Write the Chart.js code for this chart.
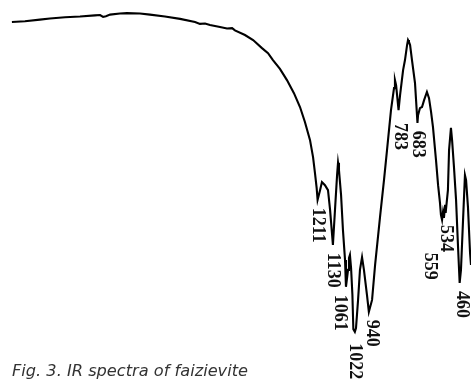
<!DOCTYPE html>
<html>
<head>
<meta charset="utf-8">
<script src="https://cdn.jsdelivr.net/npm/chart.js@4/dist/chart.umd.min.js"></script>
<style>
  html, body { margin: 0; padding: 0; background: #fff; }
  #wrap { position: relative; width: 471px; height: 385px; }
</style>
</head>
<body>
<div id="wrap"><canvas id="irChart"></canvas></div>
<script>
// wavenumber (cm-1) and transmittance (%)
var wavenumbers = [2827, 2758, 2679, 2626, 2546, 2467, 2388, 2361, 2345, 2330, 2308, 2256, 2219, 2150, 2097,
  2018, 1938, 1859, 1833, 1806, 1780, 1727, 1690, 1663, 1648, 1595, 1552, 1505, 1473, 1447, 1410, 1373,
  1336, 1304, 1278, 1251, 1235, 1225, 1216, 1211, 1198, 1188, 1172, 1156, 1145, 1130, 1119, 1108, 1103,
  1098, 1087, 1077, 1066, 1061, 1050, 1045, 1040, 1034, 1027, 1022, 1014, 1008, 997, 987, 976, 966, 950,
  940, 923, 907, 881, 860, 844, 823, 807, 802, 796, 783, 775, 759, 749, 738, 733, 728, 722, 712, 696, 683,
  680, 670, 659, 648, 633, 622, 611, 601, 585, 574, 564, 559, 553, 548, 543, 537, 534, 522, 516, 506, 500,
  490, 479, 469, 460, 453, 442, 432, 426, 416, 405, 400];
var transmittance = [94.3, 94.5, 94.9, 95.2, 95.5, 95.7, 96.0, 96.1, 95.6, 95.8, 96.2, 96.5, 96.6, 96.5, 96.2,
  95.7, 95.1, 94.3, 93.8, 93.9, 93.5, 93.0, 92.6, 92.7, 92.1, 90.9, 89.6, 87.5, 86.2, 84.4, 82.1, 79.2,
  75.8, 72.2, 68.3, 63.6, 59.2, 55.1, 51.2, 48.1, 50.6, 52.7, 51.9, 50.6, 45.5, 36.4, 45.5, 54.5, 57.7,
  55.8, 49.4, 40.3, 32.5, 25.5, 29.9, 33.0, 33.8, 30.4, 23.5, 14.5, 13.8, 14.8, 22.1, 29.9, 33.2, 29.9, 23.4,
  19.0, 22.1, 31.2, 43.6, 53.2, 61.0, 71.4, 77.1, 79.2, 77.9, 71.4, 75.3, 81.8, 84.4, 88.3, 89.6, 89.1, 88.3,
  84.4, 78.4, 68.1, 70.1, 71.9, 72.2, 74.0, 76.1, 74.5, 70.9, 67.0, 58.4, 51.9, 47.3, 44.2, 42.9, 44.9, 43.4,
  46.8, 44.7, 50.6, 61.0, 66.8, 63.6, 56.6, 48.1, 36.4, 26.5, 29.9, 42.9, 54.5, 53.2, 46.2, 34.3, 31.2];

// labelled absorption bands
var bandLabels = [1211, 1130, 1061, 1022, 940, 783, 683, 559, 534, 460];

var captionText = 'Fig. 3. IR spectra of faizievite';

var pts = [];
for (var i = 0; i < wavenumbers.length; i++) {
  pts.push({ x: wavenumbers[i], y: transmittance[i] });
}

// put the band numbers under each minimum, rotated like in the paper
var bandPlugin = {
  id: 'bands',
  afterDatasetsDraw: function (chart) {
    var ctx = chart.ctx;
    var xs = chart.scales.x, ys = chart.scales.y;
    var nudge = { 1061: [-6, 0], 1022: [1, 6], 940: [3, 0], 783: [1, 5], 559: [-11, 30], 534: [0, 4], 460: [2, 0] };
    ctx.save();
    ctx.fillStyle = '#111';
    ctx.font = 'bold 18px "Liberation Serif"';
    ctx.textAlign = 'left';
    ctx.textBaseline = 'middle';
    bandLabels.forEach(function (wn) {
      var idx = wavenumbers.indexOf(wn);
      var px = xs.getPixelForValue(wn);
      var py = ys.getPixelForValue(transmittance[idx]) + 8;
      var n = nudge[wn] || [0, 0];
      ctx.save();
      ctx.translate(px + n[0], py + n[1]);
      ctx.rotate(Math.PI / 2);
      ctx.fillText(String(wn), 0, 0);
      ctx.restore();
    });

    // caption
    ctx.fillStyle = '#333';
    ctx.textBaseline = 'alphabetic';
    ctx.font = 'italic 15px "DejaVu Sans"';
    var w = ctx.measureText(captionText).width;
    var size = 15 * 236 / w;
    ctx.font = 'italic ' + size.toFixed(2) + 'px "DejaVu Sans"';
    ctx.fillText(captionText, 12, 376);
    ctx.restore();
  }
};

var ctx1 = document.getElementById('irChart').getContext('2d');
var chart = new Chart(ctx1, {
  type: 'line',
  data: {
    datasets: [{
      data: pts,
      borderColor: '#000',
      borderWidth: 2.1,
      pointRadius: 0,
      tension: 0,
      fill: false
    }]
  },
  options: {
    responsive: true,
    maintainAspectRatio: false,
    animation: false,
    layout: { padding: 0 },
    plugins: { legend: { display: false }, tooltip: { enabled: false } },
    scales: {
      x: { type: 'linear', reverse: true, min: 400, max: 2890, display: false },
      y: { min: 0, max: 100, display: false }
    }
  },
  plugins: [bandPlugin]
});
</script>
</body>
</html>
